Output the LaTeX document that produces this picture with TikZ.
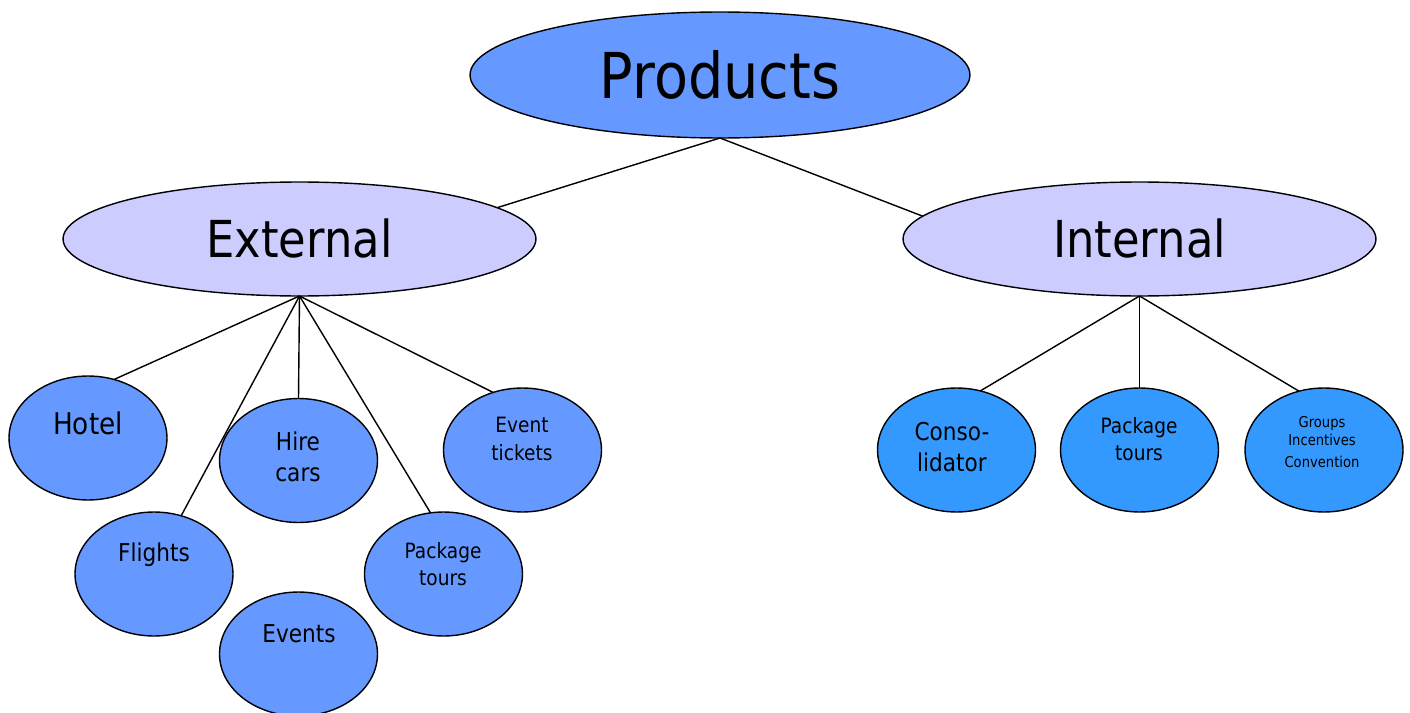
\documentclass[tikz,border=0pt]{standalone}
\usepackage{fontspec}
\setmainfont{DejaVu Sans}[FakeStretch=0.88]
\usetikzlibrary{shapes.geometric}
\definecolor{prodblue}{HTML}{6699FF}
\definecolor{lav}{HTML}{CCCCFF}
\definecolor{intblue}{HTML}{3399FF}

\begin{document}
\begin{tikzpicture}[
    x=0.02cm, y=-0.02cm,
    prod/.style={ellipse, draw, line width=0.8pt, fill=prodblue, minimum width=10cm, minimum height=2.52cm, inner sep=0pt, outer sep=0pt, font=\fontsize{36}{40}\selectfont},
    grp/.style={ellipse, draw, line width=0.8pt, fill=lav, minimum width=9.46cm, minimum height=2.28cm, inner sep=0pt, outer sep=0pt, font=\fontsize{29}{33}\selectfont},
    bub/.style={ellipse, draw, line width=0.8pt, fill=prodblue, minimum width=3.16cm, minimum height=2.48cm, inner sep=0pt, outer sep=0pt},
    ibub/.style={bub, fill=intblue},
    txt/.style 2 args={align=center, inner sep=0pt, font=\fontsize{#1}{#2}\selectfont},
    ln/.style={line width=0.8pt}
]
\useasboundingbox (0,0) rectangle (1410,713);

% top levels
\node[prod] (prod) at (720,75) {Products};
\node[grp] (ext) at (299.5,239) {External};
\node[grp] (int) at (1139.5,239) {Internal};

% external products
\node[bub] (hotel) at (88,438) {};
\node[bub] (hire) at (298.5,460.5) {};
\node[bub] (flights) at (154,574) {};
\node[bub] (events) at (298.5,654) {};
\node[bub] (pkgx) at (443.5,574) {};
\node[bub] (tix) at (522.5,450) {};

% internal products
\node[ibub] (conso) at (956.5,450) {};
\node[ibub] (pkgi) at (1139.5,450) {};
\node[ibub] (groups) at (1324,450) {};

% texts
\node[txt={17}{21}] (hotel-t) at (88,423) {Hotel};
\node[txt={14}{18}] (hire-t) at (298,457) {Hire\\cars};
\node[txt={14}{18}] (flights-t) at (154,555) {Flights};
\node[txt={14}{18}] (events-t) at (299,634) {Events};
\node[txt={12}{15.5}] (pkgx-t) at (443,564) {Package\\tours};
\node[txt={12}{15.5}] (tix-t) at (522,439) {Event\\tickets};
\node[txt={14}{18}] (conso-t) at (952,447) {Conso-\\lidator};
\node[txt={12}{15.5}] (pkgi-t) at (1139,439) {Package\\tours};
\node[txt={8.5}{10.5}] (groups-t) at (1322,442) {Groups\\Incentives\\[2pt]Convention};

\draw[ln] (prod.south) -- (ext.9);
\draw[ln] (prod.south) -- (int.174);

\draw[ln] (ext.south) -- (hotel.66);
\draw[ln] (ext.south) -- (flights.65);
\draw[ln] (ext.south) -- (hire.north);
\draw[ln] (ext.south) -- (pkgx.102);
\draw[ln] (ext.south) -- (tix.117);

\draw[ln] (int.south) -- (conso.68);
\draw[ln] (int.south) -- (pkgi.north);
\draw[ln] (int.south) -- (groups.113);
\end{tikzpicture}
\end{document}
